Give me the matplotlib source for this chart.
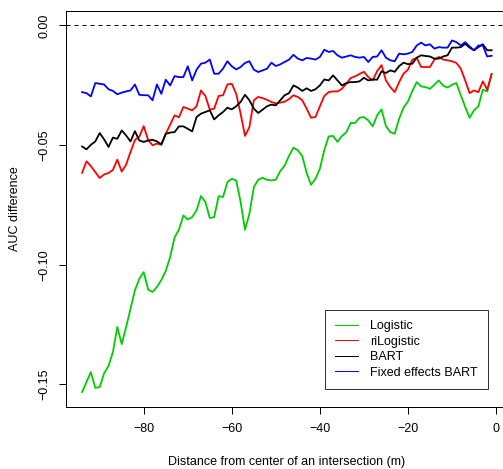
import numpy as np
import matplotlib
matplotlib.use("Agg")
import matplotlib.pyplot as plt
from matplotlib.lines import Line2D

# Distance from the intersection centre (m)
distance = list(range(-94, 0))

# AUC difference for each model
logistic = [-0.1532, -0.1490, -0.1449, -0.1515, -0.1511, -0.1454, -0.1423, -0.1365, -0.1260, -0.1332,
            -0.1260, -0.1184, -0.1107, -0.1059, -0.1031, -0.1104, -0.1114, -0.1093, -0.1064, -0.1026,
            -0.0968, -0.0886, -0.0854, -0.0794, -0.0811, -0.0801, -0.0773, -0.0713, -0.0738, -0.0805,
            -0.0801, -0.0714, -0.0717, -0.0655, -0.0641, -0.0648, -0.0738, -0.0854, -0.0787, -0.0676,
            -0.0645, -0.0637, -0.0645, -0.0648, -0.0645, -0.0609, -0.0586, -0.0545, -0.0511, -0.0522,
            -0.0546, -0.0617, -0.0666, -0.0641, -0.0599, -0.0522, -0.0464, -0.0462, -0.0487, -0.0462,
            -0.0447, -0.0408, -0.0408, -0.0386, -0.0383, -0.0397, -0.0422, -0.0376, -0.0351, -0.0421,
            -0.0446, -0.0453, -0.0390, -0.0344, -0.0318, -0.0274, -0.0237, -0.0255, -0.0258, -0.0265,
            -0.0248, -0.0230, -0.0252, -0.0260, -0.0248, -0.0241, -0.0292, -0.0341, -0.0386, -0.0355,
            -0.0338, -0.0269, -0.0276, -0.0203]

ri_logistic = [-0.0616, -0.0568, -0.0588, -0.0613, -0.0638, -0.0623, -0.0617, -0.0604, -0.0561, -0.0611,
               -0.0582, -0.0529, -0.0479, -0.0465, -0.0421, -0.0479, -0.0501, -0.0494, -0.0499, -0.0453,
               -0.0415, -0.0376, -0.0384, -0.0341, -0.0348, -0.0355, -0.0338, -0.0272, -0.0295, -0.0352,
               -0.0348, -0.0295, -0.0292, -0.0247, -0.0244, -0.0286, -0.0369, -0.0462, -0.0425, -0.0313,
               -0.0299, -0.0304, -0.0311, -0.0320, -0.0326, -0.0323, -0.0319, -0.0308, -0.0292, -0.0299,
               -0.0313, -0.0348, -0.0386, -0.0383, -0.0338, -0.0295, -0.0279, -0.0276, -0.0276, -0.0265,
               -0.0244, -0.0220, -0.0213, -0.0203, -0.0194, -0.0216, -0.0230, -0.0191, -0.0166, -0.0230,
               -0.0258, -0.0279, -0.0237, -0.0202, -0.0185, -0.0143, -0.0136, -0.0174, -0.0174, -0.0174,
               -0.0143, -0.0132, -0.0143, -0.0146, -0.0150, -0.0157, -0.0181, -0.0230, -0.0283, -0.0272,
               -0.0279, -0.0234, -0.0269, -0.0203]

bart = [-0.0506, -0.0518, -0.0499, -0.0485, -0.0450, -0.0476, -0.0508, -0.0469, -0.0474, -0.0439,
        -0.0460, -0.0485, -0.0442, -0.0481, -0.0487, -0.0481, -0.0478, -0.0485, -0.0497, -0.0453,
        -0.0448, -0.0446, -0.0422, -0.0422, -0.0432, -0.0443, -0.0383, -0.0369, -0.0362, -0.0355,
        -0.0393, -0.0376, -0.0362, -0.0344, -0.0351, -0.0338, -0.0320, -0.0290, -0.0313, -0.0348,
        -0.0366, -0.0352, -0.0338, -0.0331, -0.0334, -0.0313, -0.0292, -0.0283, -0.0251, -0.0260,
        -0.0274, -0.0263, -0.0274, -0.0267, -0.0251, -0.0226, -0.0230, -0.0209, -0.0230, -0.0251,
        -0.0241, -0.0237, -0.0237, -0.0234, -0.0219, -0.0230, -0.0226, -0.0227, -0.0192, -0.0199,
        -0.0188, -0.0194, -0.0170, -0.0156, -0.0162, -0.0160, -0.0135, -0.0125, -0.0128, -0.0130,
        -0.0139, -0.0139, -0.0130, -0.0125, -0.0093, -0.0093, -0.0091, -0.0077, -0.0093, -0.0104,
        -0.0091, -0.0079, -0.0104, -0.0104]

fe_bart = [-0.0279, -0.0283, -0.0297, -0.0241, -0.0244, -0.0247, -0.0267, -0.0274, -0.0288, -0.0281,
           -0.0276, -0.0272, -0.0247, -0.0290, -0.0292, -0.0292, -0.0313, -0.0247, -0.0286, -0.0227,
           -0.0251, -0.0212, -0.0216, -0.0216, -0.0171, -0.0230, -0.0185, -0.0160, -0.0156, -0.0143,
           -0.0202, -0.0202, -0.0181, -0.0150, -0.0171, -0.0184, -0.0174, -0.0157, -0.0150, -0.0185,
           -0.0195, -0.0188, -0.0181, -0.0156, -0.0170, -0.0163, -0.0153, -0.0143, -0.0123, -0.0139,
           -0.0146, -0.0136, -0.0139, -0.0143, -0.0132, -0.0102, -0.0111, -0.0107, -0.0125, -0.0135,
           -0.0130, -0.0125, -0.0132, -0.0135, -0.0132, -0.0153, -0.0132, -0.0130, -0.0104, -0.0135,
           -0.0146, -0.0150, -0.0118, -0.0121, -0.0118, -0.0111, -0.0084, -0.0072, -0.0084, -0.0079,
           -0.0097, -0.0091, -0.0093, -0.0093, -0.0063, -0.0070, -0.0084, -0.0070, -0.0088, -0.0104,
           -0.0084, -0.0084, -0.0130, -0.0127]

series_names = ["Logistic", "riLogistic", "BART", "Fixed effects BART"]
series_colors = ["#00CD00", "#FF0000", "#000000", "#0000FF"]
x_ticks = [-80, -60, -40, -20, 0]
y_ticks = [0.00, -0.05, -0.10, -0.15]

plt.rcParams["font.family"] = ["Liberation Sans", "DejaVu Sans"]
plt.rcParams["font.size"] = 9

W, H = 503, 469
fig = plt.figure(figsize=(W / 100, H / 100), dpi=100)
# plot region in pixels: left 65.7, right 508, top 10.7, bottom 406.7
ax = fig.add_axes([65.7 / W, (H - 406.7) / H, (508 - 65.7) / W, (406.7 - 10.7) / H])

lw_px = 72 / 100  # one pixel in points
for vals, col in zip([logistic, ri_logistic, bart, fe_bart], series_colors):
    ax.plot(distance, vals, color=col, lw=1.8 * lw_px, solid_joinstyle="round")

ax.axhline(0, color="black", lw=lw_px, linestyle=(0, (4, 4)))

# R-style 4% padding around the data range
xmin, xmax = min(distance), max(distance)
xr = xmax - xmin
ax.set_xlim(xmin - 0.04 * xr, xmax + 0.04 * xr)
ymin = min(min(logistic), min(ri_logistic), min(bart), min(fe_bart))
ymax = 0.0
yr = ymax - ymin
ax.set_ylim(ymin - 0.04 * yr, ymax + 0.04 * yr)

ax.set_xticks(x_ticks)
ax.set_xticklabels([f"{t:g}".replace("-", "\u2212") for t in x_ticks])
ax.set_yticks(y_ticks)
ax.set_yticklabels([f"{t:.2f}".replace("-", "\u2212") for t in y_ticks])
for lab in ax.get_yticklabels():
    lab.set_rotation(90)
    lab.set_va("center")

ax.tick_params(direction="out", length=7 * lw_px, width=lw_px, colors="black", labelsize=9)
ax.tick_params(axis="x", pad=7)
ax.tick_params(axis="y", pad=6)
for sp in ax.spines.values():
    sp.set_linewidth(lw_px)
    sp.set_color("black")

ax.set_xlabel("Distance from center of an intersection (m)", fontsize=9, labelpad=15)
ax.set_ylabel("AUC difference", fontsize=9, labelpad=12.5)

handles = [Line2D([], [], color=c, lw=lw_px) for c in series_colors]
leg = ax.legend(handles, series_names, loc="upper left",
                bbox_to_anchor=(325 / W, 1 - 310 / H), bbox_transform=fig.transFigure,
                borderaxespad=0, frameon=True, fancybox=False, shadow=False,
                fontsize=9, handlelength=1.85, handletextpad=0.95, labelspacing=0.28,
                borderpad=0.8)
leg.get_frame().set_edgecolor("black")
leg.get_frame().set_linewidth(lw_px)

fig.savefig("out.png", dpi=100)
